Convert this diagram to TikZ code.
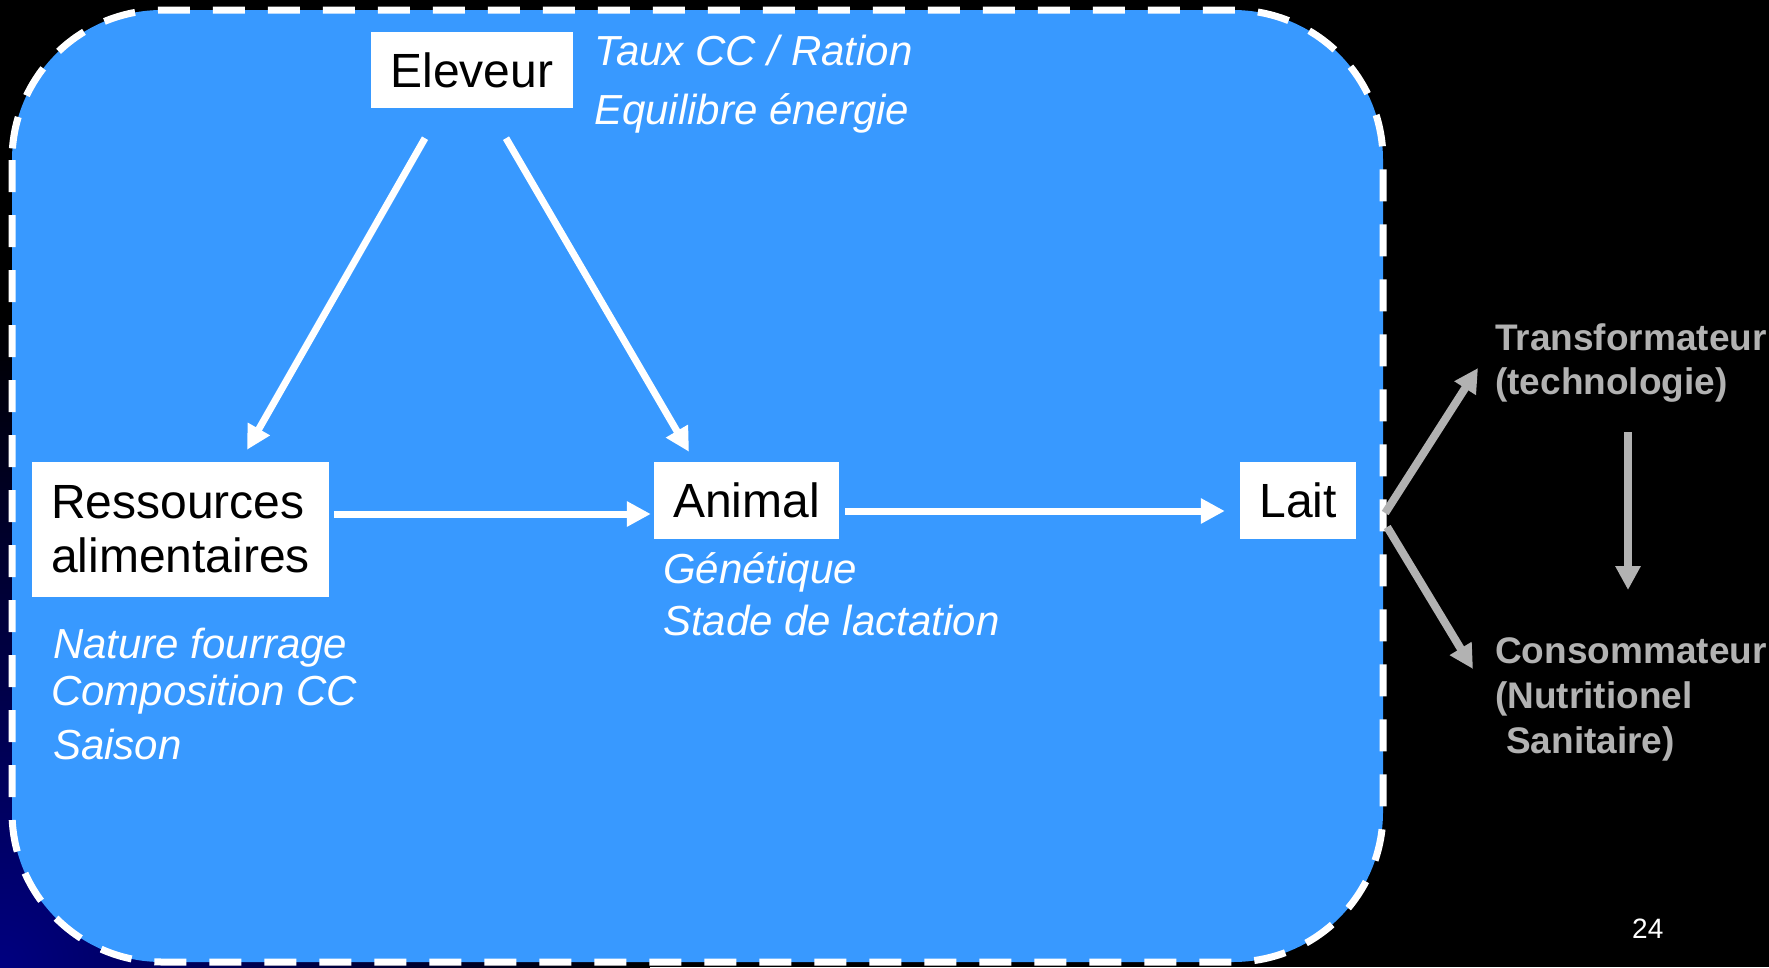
\documentclass[tikz,border=0pt]{standalone}
\usepackage{fontspec}
\setmainfont{Liberation Sans}
\usetikzlibrary{arrows.meta,calc}
\definecolor{boxblue}{RGB}{56,153,255}
\definecolor{arrgray}{RGB}{178,178,178}
\definecolor{navybg}{RGB}{0,0,128}
\begin{document}
\begin{tikzpicture}[x=1pt,y=-1pt,
  box/.style={draw=none,fill=white,text=black,inner sep=0pt,font=\fontsize{48}{54}\selectfont},
  note/.style={text=white,inner sep=0pt,anchor=base west,font=\fontsize{42}{48}\selectfont\itshape},
  gnote/.style={text=arrgray,inner sep=0pt,anchor=base west,font=\fontsize{37}{44}\selectfont\bfseries},
  warrow/.style={draw=white,line width=7pt,-{Triangle[length=24pt,width=24pt]}},
  garrow/.style={draw=arrgray,line width=8pt,-{Triangle[length=24pt,width=24pt]}}]
\useasboundingbox (0,0) rectangle (1769,967);
% background
\fill[black] (0,0) rectangle (1769,967);
\begin{scope}
  \clip (0,0) rectangle (1769,967);
  \shade[inner color=navybg,outer color=black] (0,967) circle (650pt);
\end{scope}
% main dashed frame
\draw[draw=white,fill=boxblue,line width=7pt,dash pattern=on 32pt off 23pt,rounded corners=150pt]
  (12,10) rectangle (1383,962);
% boxes
\node[box,minimum width=202pt,minimum height=76pt] (elev) at (472,70) {Eleveur};
\node[box,minimum width=297pt,minimum height=135pt,align=left] (res) at (180.5,529.5) {Ressources\\alimentaires};
\node[box,minimum width=185pt,minimum height=77pt] (anim) at (746.5,500.5) {Animal};
\node[box,minimum width=116pt,minimum height=77pt] (lait) at (1298,500.5) {Lait};
% notes
\node[note] (n1) at (594,65) {Taux CC / Ration};
\node[note] (n2) at (594,124) {Equilibre énergie};
\node[note] (n3) at (53,658) {Nature fourrage};
\node[note] (n4) at (51,705) {Composition CC};
\node[note] (n5) at (53,759) {Saison};
\node[note] (n6) at (663,583) {Génétique};
\node[note] (n7) at (663,635) {Stade de lactation};
% right side texts
\node[gnote] (tr1) at (1495,350) {Transformateur};
\node[gnote] (tr2) at (1495,394) {(technologie)};
\node[gnote] (co1) at (1495,663) {Consommateur};
\node[gnote] (co2) at (1495,708) {(Nutritionel};
\node[gnote] (co3) at (1506,753) {Sanitaire)};
\node[text=white,anchor=base west,inner sep=0pt,font=\fontsize{28}{30}\selectfont] (pg) at (1632,938) {24};
% white arrows
\draw[warrow] ([xshift=-47pt,yshift=-30pt]elev.south) -- ([xshift=66.5pt,yshift=12pt]res.north);
\draw[warrow] ([xshift=34pt,yshift=-30pt]elev.south) -- ([xshift=-57.5pt,yshift=10pt]anim.north);
\draw[warrow] ([xshift=5pt,yshift=15.5pt]res.east) -- ([xshift=-3pt,yshift=-13.5pt]anim.west);
\draw[warrow] ([xshift=6pt,yshift=-10.5pt]anim.east) -- ([xshift=-15pt,yshift=-10.5pt]lait.west);
% gray arrows
\coordinate (trin) at (1478,368);
\coordinate (coin) at (1473,669);
\coordinate (trout) at (1628,432);
\coordinate (coin2) at (1628,590);
\draw[garrow] ([xshift=29pt,yshift=-12.5pt]lait.east) -- (trin);
\draw[garrow] ([xshift=31pt,yshift=-26.5pt]lait.east) -- (coin);
\draw[garrow] (trout) -- (coin2);
\end{tikzpicture}
\end{document}
